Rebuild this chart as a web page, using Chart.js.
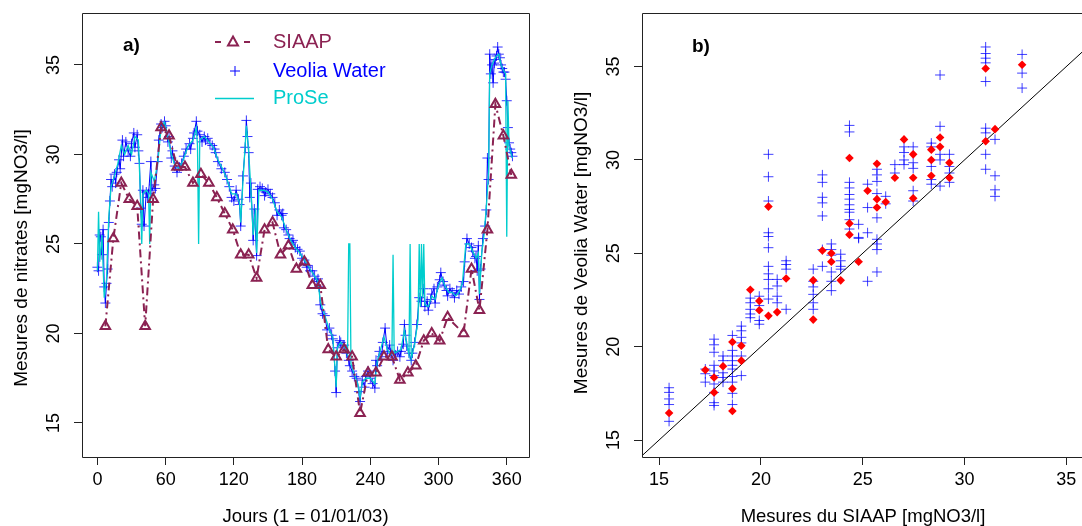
<!DOCTYPE html>
<html>
<head>
<meta charset="utf-8">
<title>Nitrates - SIAAP / Veolia Water / ProSe</title>
<script src="https://cdn.jsdelivr.net/npm/chart.js@4.4.1/dist/chart.umd.min.js"></script>
<style>
  html, body { margin: 0; padding: 0; background: #fff; overflow: hidden; }
  #wrap { position: relative; width: 1082px; height: 526px; overflow: hidden; background: #fff; }
  canvas { position: absolute; top: 0; }
  #left { left: 0; }
  #right { left: 560px; }
</style>
</head>
<body>
<div id="wrap">
  <canvas id="left" width="560" height="526"></canvas>
  <canvas id="right" width="530" height="526"></canvas>
</div>
<script>
// ---- a) time series (day of year, nitrate in mgNO3/l) ----
const veoliaDays = [0,1,2,3,4,5,6,7,8,9, 10,11,12,13,15,16,17,19,20,22, 23,25,27,29,30,32,33,35,36,37,
  38,39,40,41,43,44,45,47,48,50, 51,53,54,56,57,59,60,62,63,65, 66,68,70,72,74,76,78,81,82,84,
  85,87,88,90,92,94,95,97,99,101, 103,104,106,109,112,114,116,118,120,122, 124,125,126,128,130,131,132,133,134,135,
  137,138,140,141,143,145,147,148,150,152, 154,156,158,160,162,163,164,166,168,169, 171,172,174,176,178,180,182,184,185,187,
  189,191,193,194,195,196,198,200,202,204, 206,207,209,210,211,213,214,216,217,219, 221,222,224,226,228,230,231,233,235,236,
  238,240,242,244,245,246,248,250,251,253, 255,257,258,260,262,264,266,267,269,270, 271,272,274,276,277,279,281,283,285,287,
  288,290,291,293,294,296,297,299,301,302, 304,305,307,308,310,312,314,316,318,320, 322,323,325,327,329,330,332,333,334,335,
  336,337,339,341,342,343,344,345,346,347, 348,349,350,351,352,353,354,355,356,357, 358,359,360,361,362,363,364,365];
const veoliaNitrate = [23.7,23.5,25.5,25.4,24.4,25.8,22.6,21.7,22.8,23.6, 26.2,27.4,28.6,28.2,28.9,28.4,29.0,29.7,29.2,30.8, 29.9,30.7,30.2,29.9,30.6,31.2,30.4,31.1,30.2,29.5,
  27.0,26.1,28.0,26.0,27.9,27.6,27.8,29.6,28.0,28.3, 28.1,29.6,30.8,31.7,31.5,31.85,31.6,30.7,31.0,29.8, 30.2,29.35,29.0,29.3,29.5,29.9,30.3,30.6,30.3,30.9,
  31.2,31.85,31.3,31.1,30.7,31.0,30.8,30.9,30.6,30.5, 30.3,30.1,29.6,29.2,29.0,28.6,28.2,27.6,27.4,28.0, 27.5,27.2,26.0,28.8,30.4,31.9,31.0,30.1,27.6,28.4,
  25.2,26.95,24.35,28.05,28.2,28.1,27.7,27.9,28.05,27.8, 27.6,27.3,26.6,26.9,26.6,26.7,25.9,25.8,25.5,25.3, 25.1,25.2,24.8,24.7,24.6,24.2,24.1,23.7,23.8,23.5,
  23.5,23.2,22.9,23.05,22.6,21.6,21.1,21.0,20.2,20.3, 19.9,19.7,17.9,16.7,19.2,19.6,19.5,19.3,19.35,18.9, 18.5,18.2,17.9,17.6,17.5,16.75,16.2,17.4,17.0,17.6,
  17.9,17.5,17.2,16.95,18.5,18.2,19.0,18.7,19.5,20.3, 19.0,19.35,18.9,18.5,18.8,19.0,18.7,19.0,19.4,20.5, 19.9,19.3,18.9,18.5,18.9,19.5,20.5,22.0,21.8,22.5,
  21.5,21.8,21.3,21.9,22.2,22.5,21.7,22.6,23.0,23.4, 22.9,22.7,22.4,22.1,22.5,22.3,22.0,22.4,22.2,22.6, 22.9,24.0,25.3,25.0,24.8,24.6,24.2,24.3,23.5,24.9,
  21.9,23.6,25.3,26.0,26.9,29.8,28.6,35.6,34.5,35.0, 34.0,35.1,35.3,35.5,36.0,35.6,35.4,35.0,34.8,34.6, 34.6,34.2,33.0,31.5,30.65,30.3,30.1,29.9];

const proseDays = [0,1,2,4,6,8,10,12,15,18, 21,24,27,30,33,36,38,39,40,43, 45,46,47,50,53,56,59,62,65,68,
  72,76,80,84,87,88,89,90,94,98, 102,106,110,114,118,122,125,126,128,131, 133,135,137,139,140,142,146,150,154,158,
  162,166,170,174,178,182,186,190,194,196, 200,204,207,209,210,211,214,218,220,221, 222,223,226,229,231,233,236,240,244,246,
  249,252,255,258,259,260,261,264,267,270, 272,274,275,276,279,282,283,284,285,286, 287,288,291,294,297,300,303,306,309,312,
  315,318,321,324,327,330,333,335,336,338, 340,342,344,345,347,349,351,353,355,357, 359,360,361,362,364,365];
const proseNitrate = [23.5,26.8,24.0,25.5,22.0,23.0,26.5,28.2,28.8,29.5, 30.5,30.0,30.5,30.0,31.0,30.8,27.5,25.0,27.8,28.0,
  27.8,25.0,29.0,28.5,29.5,31.5,31.8,31.0,30.0,29.4, 29.2,29.8,30.5,30.8,31.5,30.5,25.0,30.8,31.0,30.7,
  30.4,29.7,29.2,28.6,27.8,27.8,27.3,26.2,28.5,31.6, 30.2,28.0,25.5,27.0,24.5,28.0,28.0,27.9,27.5,26.8,
  26.5,25.8,25.2,24.8,24.5,24.1,23.7,23.3,22.9,21.8, 21.0,20.2,19.8,18.0,17.0,19.2,19.5,19.2,18.8,25.0,
  25.0,18.3,17.7,17.2,16.4,17.3,17.5,17.5,17.2,18.4, 19.1,19.8,19.1,18.8,18.9,24.4,18.9,19.0,19.1,20.2,
  19.4,18.8,25.0,18.6,19.4,20.8,25.0,21.5,25.0,22.0, 25.0,21.6,21.5,22.1,21.9,22.7,23.1,22.6,22.3,22.3,
  22.1,22.3,22.8,25.0,25.0,24.6,24.2,24.5,22.2,24.5, 25.5,27.0,29.0,34.5,35.0,35.3,35.5,35.6,35.0,34.7,
  34.5,25.4,33.0,30.5,30.0,29.8];

const siaapDays = [7,14,21,28,35,42,49,56,63,70, 77,84,91,98,105,112,119,126,133,140, 147,154,161,168,175,182,189,196,203,210,
  217,224,231,238,245,252,259,266,273,280, 287,294,301,308,322,329,336,343,350,357, 364];
const siaapNitrate = [20.4,25.3,28.4,27.5,27.1,20.4,27.5,31.5,31.05,29.3, 29.3,28.4,28.9,28.4,27.6,26.7,25.8,24.4,24.4,23.1,
  25.8,26.2,24.4,24.9,23.6,24.0,22.7,22.7,19.1,18.7, 19.1,18.7,15.55,17.8,17.8,18.7,18.7,17.4,17.8,18.2,
  19.6,20.0,19.6,20.9,20.0,23.6,21.3,25.8,32.8,31.05, 28.85];

const dayTicks = [0, 60, 120, 180, 240, 300, 360];
const nitrateTicks = [15, 20, 25, 30, 35];

// ---- b) Veolia Water against SIAAP ----
const siaapLevels = [15.49,17.27,17.7,18.14,18.6,19.04,19.48,19.92,20.37,20.8, 21.24,22.57,23.02,23.46,23.92,24.35,24.8,25.24,25.7,26.13,
  26.58,27.03,27.48,28.37,28.8,29.26,31.04,31.5,32.83];
const veoliaAround = [
  [17.8,17.55,17.2,16.9,16.0], [18.8,18.55,18.1], [20.4,20.1,19.7,19.0,18.7,18.45,18.0,17.55,17.0,16.85],
  [19.5,19.25,18.6,18.35,18.1], [20.6,19.8,19.5,19.25,19.0,18.8,18.4,18.1,17.5,16.9], [21.1,20.85,20.5,20.2,19.5,18.45],
  [22.6,22.35,22.0,21.75,21.55], [22.7,22.2,21.4,21.2], [30.3,29.1,27.8,26.1,25.9,25.3,24.3,23.9,23.6,23.1,22.55],
  [23.6,23.25,22.7,22.35], [24.6,24.4,24.15,22.0], [24.15,23.5,23.2,22.8,22.35,22.0],
  [29.2,28.8,28.0,27.7,27.0,25.2,24.3], [25.5,25.2,24.9,24.0,23.5,23.0], [24.95,24.6,24.3,24.15],
  [31.85,31.5,28.8,28.5,28.15,27.9,27.6,27.35,27.2,26.8,26.3], [26.55,25.85,25.8], [28.7,27.45,26.1,23.5],
  [29.5,29.2,28.85,28.2,26.9,25.75,25.5,25.2,24.0], [28.05,27.65], [29.75,29.3],
  [30.7,30.4,30.0,29.75], [30.7,29.85,29.55,28.35,27.8], [30.9,30.7,29.65,28.95,28.7],
  [34.55,31.8,30.3,30.0,28.6], [30.3,29.65,29.3,28.8], [36.05,35.7,35.45,35.2,34.2,31.7,31.45,30.3,29.5],
  [31.1,29.15,28.4,28.05], [35.65,34.65,33.85]
];
const veoliaSameDay = [
  [16.45], [18.75], [18.35,17.55], [18.95], [20.25,17.75,16.55], [20.05,19.25], [23.05], [22.45,21.95],
  [27.5,21.65], [21.85], [23.65], [23.55,21.45], [25.15], [25.0,24.55], [23.55], [30.1,26.6,26.0],
  [24.55], [28.35], [29.8,27.9,27.45], [27.75], [29.05], [31.1], [30.3,29.05,27.95], [30.55,30.0,29.15],
  [31.2,30.7], [29.85,29.05], [34.9,31.0], [31.65], [35.1]
];
const siaapTicks = [15, 20, 25, 30, 35];
const oneToOne = [14, 38];

// ---- styling ----
const FONT = '"Liberation Sans", Arial, Helvetica, sans-serif';
const maroon = '#8B2252';
const blue = '#0000FF';
const cyan = '#00CDCD';
Chart.defaults.font.family = FONT;
Chart.defaults.color = '#000';

const xy = (xs, ys) => xs.map((x, i) => ({ x: x, y: ys[i] }));

// R-like box around the plot region, rotated y tick labels and y title
function rFrame(id, openRight, yTitle, yTitleCenter) {
  return {
    id: id,
    afterDraw(chart) {
      const { ctx, chartArea: a } = chart;
      const ys = chart.scales.y;
      ctx.save();
      ctx.strokeStyle = '#222';
      ctx.lineWidth = 1;
      ctx.beginPath();
      ctx.moveTo(Math.round(a.right) + 0.5, Math.round(a.top) + 0.5);
      ctx.lineTo(Math.round(a.left) + 0.5, Math.round(a.top) + 0.5);
      ctx.lineTo(Math.round(a.left) + 0.5, Math.round(a.bottom) + 0.5);
      ctx.lineTo(Math.round(a.right) + 0.5, Math.round(a.bottom) + 0.5);
      if (!openRight) ctx.closePath();
      ctx.stroke();

      ctx.fillStyle = '#000';
      ctx.textAlign = 'center';
      ctx.textBaseline = 'middle';
      ctx.font = '18px ' + FONT;
      ys.ticks.forEach(t => {
        ctx.save();
        ctx.translate(a.left - 28, ys.getPixelForValue(t.value));
        ctx.rotate(-Math.PI / 2);
        ctx.fillText(String(t.value), 0, 0);
        ctx.restore();
      });

      ctx.font = '19px ' + FONT;
      ctx.translate(a.left - 60, yTitleCenter);
      ctx.rotate(-Math.PI / 2);
      ctx.fillText(yTitle, 0, 0);
      ctx.restore();
    }
  };
}

const panelA = {
  id: 'panelA',
  afterDraw(chart) {
    const ctx = chart.ctx;
    ctx.save();
    ctx.fillStyle = '#000';
    ctx.font = 'bold 19px ' + FONT;
    ctx.textBaseline = 'middle';
    ctx.fillText('a)', 123, 46);

    // legend
    ctx.font = '20px ' + FONT;
    // SIAAP : dash, triangle, dash
    ctx.strokeStyle = maroon;
    ctx.lineWidth = 2;
    ctx.beginPath();
    ctx.moveTo(215, 42); ctx.lineTo(221, 42);
    ctx.moveTo(244, 42); ctx.lineTo(250, 42);
    ctx.stroke();
    ctx.beginPath();
    ctx.moveTo(233, 36.5); ctx.lineTo(238, 45.5); ctx.lineTo(228, 45.5); ctx.closePath();
    ctx.stroke();
    ctx.fillStyle = maroon;
    ctx.fillText('SIAAP', 273, 42);
    // Veolia Water : cross
    ctx.strokeStyle = blue;
    ctx.lineWidth = 1;
    ctx.beginPath();
    ctx.moveTo(230, 71); ctx.lineTo(240, 71);
    ctx.moveTo(235, 66); ctx.lineTo(235, 76);
    ctx.stroke();
    ctx.fillStyle = blue;
    ctx.fillText('Veolia Water', 273, 71);
    // ProSe : line
    ctx.strokeStyle = cyan;
    ctx.lineWidth = 1.3;
    ctx.beginPath();
    ctx.moveTo(215, 98.5); ctx.lineTo(254, 98.5);
    ctx.stroke();
    ctx.fillStyle = cyan;
    ctx.fillText('ProSe', 273, 98.5);
    ctx.restore();
  }
};

const panelB = {
  id: 'panelB',
  afterDraw(chart) {
    const ctx = chart.ctx;
    ctx.save();
    ctx.fillStyle = '#000';
    ctx.font = 'bold 19px ' + FONT;
    ctx.textBaseline = 'middle';
    ctx.fillText('b)', 132, 47);
    ctx.restore();
  }
};

function xAxis(min, max, ticks, title) {
  return {
    type: 'linear',
    min: min,
    max: max,
    afterBuildTicks: s => { s.ticks = ticks.map(v => ({ value: v })); },
    grid: { drawOnChartArea: false, drawTicks: true, tickLength: 8, color: '#222', lineWidth: 1 },
    border: { display: false },
    ticks: { autoSkip: false, maxRotation: 0, minRotation: 0, padding: 4, font: { size: 18 }, color: '#000', callback: v => String(v) },
    title: { display: true, text: title, font: { size: 18.5, lineHeight: 1 }, color: '#000', padding: { top: 0, bottom: 0 } },
    afterFit: s => { s.height = 69; s.paddingLeft = 0; s.paddingRight = 0; }
  };
}

function yAxis(min, max, ticks) {
  return {
    type: 'linear',
    min: min,
    max: max,
    afterBuildTicks: s => { s.ticks = ticks.map(v => ({ value: v })); },
    grid: { drawOnChartArea: false, drawTicks: true, tickLength: 8, color: '#222', lineWidth: 1 },
    border: { display: false },
    ticks: { display: false },
    title: { display: false },
    afterFit: s => { s.width = 82; s.paddingTop = 0; s.paddingBottom = 0; }
  };
}

const common = {
  responsive: false,
  animation: false,
  events: [],
  plugins: { legend: { display: false }, tooltip: { enabled: false } }
};

new Chart(document.getElementById('left'), {
  type: 'scatter',
  data: {
    datasets: [
      {
        label: 'SIAAP',
        data: xy(siaapDays, siaapNitrate),
        showLine: true,
        borderColor: maroon,
        borderWidth: 2,
        borderDash: [8, 4, 2, 4],
        pointStyle: 'triangle',
        pointRadius: 5.5,
        pointBorderWidth: 2,
        pointBorderColor: maroon,
        pointBackgroundColor: 'rgba(255,255,255,0)',
        order: 0
      },
      {
        label: 'ProSe',
        data: xy(proseDays, proseNitrate),
        showLine: true,
        borderColor: cyan,
        borderWidth: 1.3,
        pointRadius: 0,
        order: 1
      },
      {
        label: 'Veolia Water',
        data: xy(veoliaDays, veoliaNitrate),
        showLine: true,
        borderColor: blue,
        borderWidth: 1,
        pointStyle: 'cross',
        pointRadius: 5,
        pointBorderWidth: 1,
        pointBorderColor: 'rgba(0,0,255,0.8)',
        order: 2
      }
    ]
  },
  options: Object.assign({}, common, {
    layout: { padding: { top: 13, right: 31, left: 0, bottom: 0 } },
    scales: {
      x: xAxis(-13.56, 379.56, dayTicks, 'Jours (1 = 01/01/03)'),
      y: yAxis(13.1, 37.9, nitrateTicks)
    }
  }),
  plugins: [rFrame('frameA', false, 'Mesures de nitrates [mgNO3/l]', 258), panelA]
});

const bluePts = [];
const redPts = [];
siaapLevels.forEach((x, i) => {
  veoliaAround[i].forEach(y => bluePts.push({ x: x, y: y }));
  veoliaSameDay[i].forEach(y => redPts.push({ x: x, y: y }));
});

new Chart(document.getElementById('right'), {
  type: 'scatter',
  data: {
    datasets: [
      {
        label: 'Meme jour',
        data: redPts,
        pointStyle: 'rectRot',
        pointRadius: 4.3,
        pointBorderWidth: 0,
        pointBackgroundColor: '#FF0000',
        pointBorderColor: '#FF0000',
        order: 0
      },
      {
        label: '1:1',
        data: xy(oneToOne, oneToOne),
        showLine: true,
        borderColor: '#000',
        borderWidth: 1,
        pointRadius: 0,
        order: 1
      },
      {
        label: 'Veolia Water',
        data: bluePts,
        pointStyle: 'cross',
        pointRadius: 5,
        pointBorderWidth: 1,
        pointBorderColor: 'rgba(0,0,255,0.75)',
        order: 2
      }
    ]
  },
  options: Object.assign({}, common, {
    layout: { padding: { top: 13, right: 0, left: 0, bottom: 0 } },
    scales: {
      x: xAxis(14.16, 35.87, siaapTicks, 'Mesures du SIAAP [mgNO3/l]'),
      y: yAxis(14.09, 37.87, nitrateTicks)
    }
  }),
  plugins: [rFrame('frameB', true, 'Mesures de Veolia Water [mgNO3/l]', 243), panelB]
});
</script>
</body>
</html>
